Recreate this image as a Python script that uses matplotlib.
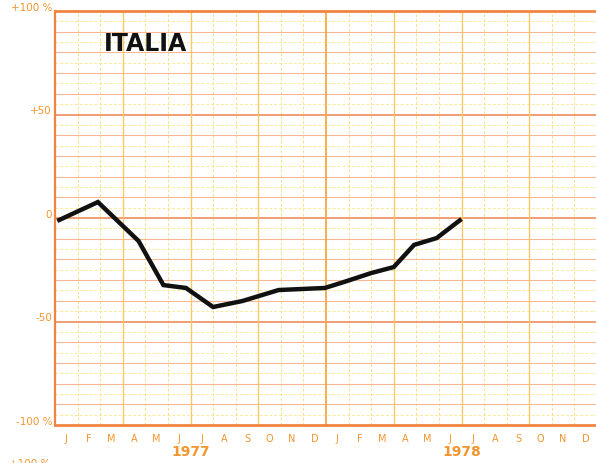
import numpy as np
import matplotlib

matplotlib.use("Agg")
import matplotlib.pyplot as plt
from matplotlib.transforms import blended_transform_factory

# month position (0 = start of Jan 1977) and percent change
MONTH_POS = [0.1, 1.9, 3.7, 4.8, 5.8, 7.0, 8.3, 9.9, 11.95, 12.8, 14.0, 15.0, 15.9, 16.9, 18.0]
PCT = [-1.4, 7.7, -11.1, -32.4, -33.8, -43.0, -40.1, -34.8, -33.8, -30.9, -26.6, -23.7, -13.0, -9.7, -0.5]

MONTHS = ["J", "F", "M", "A", "M", "J", "J", "A", "S", "O", "N", "D"] * 2
YEARS = ["1977", "1978"]
Y_TICKS = [100, 50, 0, -50, -100]
Y_LABELS = ["+100 %", "+50", "0", "-50", "-100 %"]
TITLE = "ITALIA"

ORANGE_TXT = "#f2952e"
FRAME = "#f08440"

fig = plt.figure(figsize=(5.96, 4.64), dpi=100)
ax = fig.add_axes([55 / 596, 38 / 464, 542 / 596, 414 / 464])
ax.set_xlim(0, 24)
ax.set_ylim(-100, 100)
ax.set_xticks([])
ax.set_yticks([])
for s in ax.spines.values():
    s.set_visible(False)

# graph paper
for v in range(-95, 100, 10):
    ax.axhline(v, color="#f9ea9c", lw=0.7, ls=(0, (3, 2)), zorder=1)
for v in range(-90, 100, 10):
    strong = v % 50 == 0
    ax.axhline(v, color="#ef8c5c" if strong else "#f6b894",
               lw=1.2 if strong else 0.8, zorder=2)
for m in range(1, 24):
    if m == 12:
        ax.axvline(m, color="#f2a848", lw=1.3, zorder=2)
    elif m % 3 == 0:
        ax.axvline(m, color="#f7c868", lw=1.0, zorder=2)
    else:
        ax.axvline(m, color="#f9e08c", lw=0.7, ls=(0, (3, 2)), zorder=1)

ax.axhline(100, color=FRAME, lw=2, zorder=3, clip_on=False)
ax.axhline(-100, color=FRAME, lw=2, zorder=3, clip_on=False)
ax.axvline(0, color=FRAME, lw=1.6, zorder=3, clip_on=False)

ax.plot(MONTH_POS, PCT, color="#111111", lw=3.2, solid_joinstyle="miter",
        solid_capstyle="butt", zorder=5)

# y labels slightly above their lines
ytr = blended_transform_factory(fig.transFigure, ax.transData)
for v, lab in zip(Y_TICKS, Y_LABELS):
    ax.text(52 / 596, v + 2, lab, transform=ytr, ha="right", va="center",
            color=ORANGE_TXT, fontsize=7.5, clip_on=False)

# month and year labels
xtr = blended_transform_factory(ax.transData, fig.transFigure)
for i, m in enumerate(MONTHS):
    ax.text(i + 0.5, 1 - 439 / 464, m, transform=xtr, ha="center", va="center",
            color=ORANGE_TXT, fontsize=7, clip_on=False)
for i, y in enumerate(YEARS):
    ax.text(12 * i + 6, 1 - 452 / 464, y, transform=xtr, ha="center", va="center",
            color=ORANGE_TXT, fontsize=10, fontweight="bold", clip_on=False)

ax.text(146 / 596, 1 - 44 / 464, TITLE, transform=fig.transFigure, ha="center",
        va="center", fontsize=17, fontweight="bold", color="#111111", zorder=6)

# top of the next chart's label, cut off by the page
fig.text(50 / 596, 1 - 464 / 464, "+100 %", ha="right", va="center",
         color=ORANGE_TXT, fontsize=7.5)

fig.savefig("out.png", dpi=100, facecolor="white")
